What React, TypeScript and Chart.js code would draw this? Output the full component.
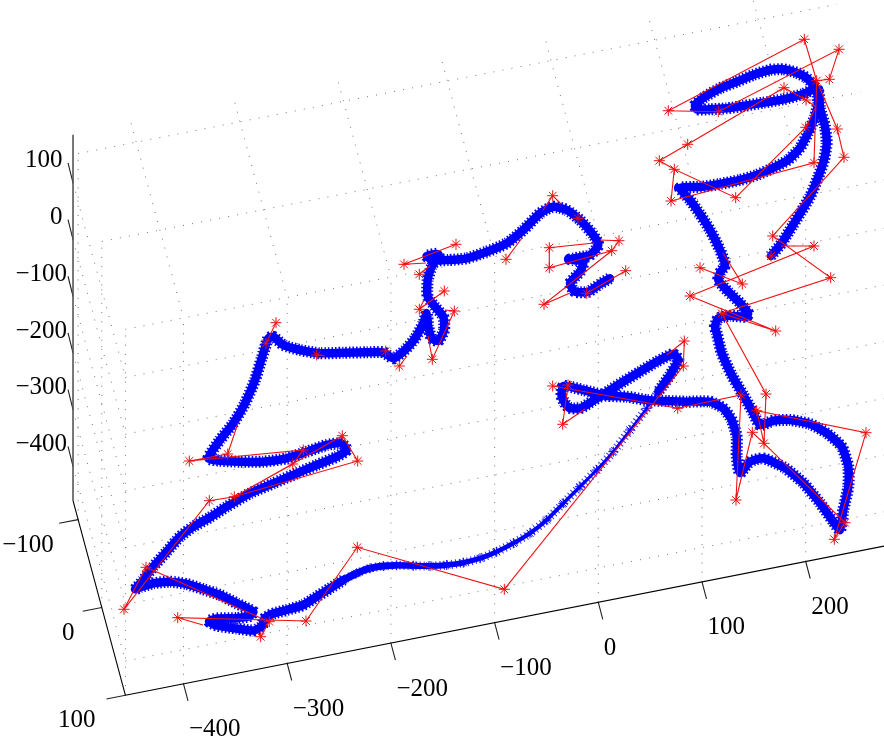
import React, { useEffect, useRef } from "react";
import { Chart, registerables } from "chart.js";

Chart.register(...registerables);

type P = [number, number] | null;

const xTicks = [-400, -300, -200, -100, 0, 100, 200];
const yTicks = [-100, 0, 100];
const zTicks = [-400, -300, -200, -100, 0, 100];
const xRange = [-456, 275.5];
const yRange = [-121.6, 100];
const zRange = [-460.5, 185];

// blue fitted curve (projected plot coordinates)
const blueDenseA: P[] = [
  [771, 256], [781.7, 243], [793, 225], [801, 212], [810, 196.7], [818.3, 176.7], [824, 160], [826.7, 143], [825, 126.7], [820, 108], [818.3, 91.7],
  [806.7, 78], [796.7, 72.7], [783.3, 69.3], [770, 70], [753, 75], [736.7, 81.7], [720, 88.3], [705, 96.7], [695, 105], [696.7, 109.3],
  [710, 109.3], [726.7, 108.3], [743, 106], [763, 102.7], [783.3, 99.3], [803.3, 94], [816.7, 88.3], [818, 103], [815, 116.7], [808, 133],
  [800, 148], [788, 160], [773, 168], [756.7, 175], [740, 180], [720, 184], [700, 187], [680, 188], [690, 200], [700, 214], [710, 230],
  [720, 250], [725, 265], [720, 273], [718.3, 280], [728.3, 291.7], [740, 303], [748, 313], [746.7, 316.7], [730, 315.7], [718.3, 318.3],
  [715, 326.7], [716.7, 333], [721.7, 353], [731.7, 375], [743.3, 395], [753.3, 413], [760, 425], [773.3, 420.7], [790, 420], [810, 424],
  [826.7, 433], [841.7, 446.7], [848.3, 466.7], [848.3, 486.7], [843.3, 510], [840, 530], [833.3, 521.7], [820, 503], [803.3, 483], [785, 468],
  [763.3, 458.3], [750, 461.7], [740, 473], [736.7, 456.7], [736.7, 436.7], [731.7, 420], [723.3, 408.3], [710, 401.7], [686.7, 401.7],
  [666.7, 401], [646.7, 400], [626.7, 396.7], [606.7, 395.7], [583.3, 390], [563.3, 386], [561.7, 396.7], [568.3, 407.3], [580, 408.3],
  [593.3, 400.7], [610, 390], [623.3, 381.7], [640, 371.7], [656.7, 361.7], [673.3, 354], [678.3, 360], [670, 375], [658.3, 391.7],
];
const blueThin: P[] = [
  [658.3, 391.7], [646.7, 408.3], [630, 430], [613.3, 451.7], [596.7, 470], [580, 486.7], [563.3, 503.3], [546.7, 520], [530, 533.3],
  [513.3, 543.3], [496.7, 551.7], [480, 558.3], [463.3, 562.7], [446.7, 565], [430, 566], [413.3, 565.7], [396.7, 565.3], [383.3, 566],
  [370, 568.3], [356.7, 573.3], [343.3, 580],
];
const blueDenseB: P[] = [
  [343.3, 580], [330, 588.3], [316.7, 596.7], [303.3, 605],
  [286.7, 610], [272, 614], [264, 619], [262, 626], [254, 630.5], [236.7, 628.5], [216.7, 625.5], [209, 621.5], [216.7, 618.5], [236.7, 618],
  [250, 616], [253.3, 611.7],
  [236.7, 603.3], [220, 595], [203.3, 589.3], [186.7, 584], [170, 581.7], [153.3, 583.3], [140, 587.3], [135, 589.3], [143.3, 580],
  [153.3, 566.7], [166.7, 551.7], [180, 536.7], [193.3, 526.7], [210, 517.3], [226.7, 506.7], [250, 493.3], [273.3, 483.3], [296.7, 473.3],
  [316.7, 465], [336.7, 456.7], [346.7, 450], [341.7, 443.3], [326.7, 445], [306.7, 451.7], [286.7, 458.3], [263.3, 461.7], [240, 461.7],
  [220, 460.7], [208.3, 458.3], [220, 440], [233.3, 423.3], [245, 403.3], [255, 380], [261.7, 358.3], [268.3, 338.3], [273.3, 336.7],
  [283.3, 345], [300, 350], [320, 353.3], [343.3, 352.7], [366.7, 352.3], [383.3, 352.3], [393.3, 358.3], [405, 350], [415, 338.3], [423.3, 323.3],
  [426.7, 313.3], [428.3, 326.7], [431.7, 338.3], [438.3, 341], [444, 330], [443.3, 316.7], [435, 306.7], [427.7, 296.7], [427.7, 280],
  [431.7, 266.7], [438.3, 254], [426.7, 256], [433.3, 260], [448.3, 260], [466.7, 258.3], [486.7, 251.7], [506.7, 243.3], [523.3, 230],
  [540, 213.3], [553.3, 206.7], [566.7, 210], [580, 220], [593.3, 235], [598.3, 245], [590, 255], [570, 259.3], [583.3, 261.7], [580, 271.7],
  [570, 283.3], [575, 291.7], [588.3, 291.7], [600, 284], [610, 278.3],
];

// red noisy polygon; null = the line is hidden behind the curve there
const redPath: P[] = [
  [781, 246], [814, 246], [690, 296], [775.7, 331], [721.7, 313.3], [830.7, 277.7], [772.7, 236], [844, 157.3], [837.3, 129], [816.7, 80.7],
  [804.3, 39.3], [668.3, 110.7], [718.3, 111.7], [839, 49.3], [829.3, 79.3], [816.7, 80.7], [814, 162.7], [671, 201], [674.3, 169.3], [735.7, 197.7],
  [805.7, 127.3], [816, 107], [806, 100], [784, 87.7], [687.7, 144.3], [659.3, 160.7], [674.3, 169.3], null,
  [723, 253], [742.3, 284], [700, 267.7], null,
  [721.7, 313.3], [766, 394], [764, 443.3], [756.7, 410.7], [866, 432.7], [834.3, 539.3], [845, 522.7], [764, 443.3], [752.3, 432.3], [736, 500],
  [741, 395], [677.7, 408.3], [552.7, 386], null,
  [568, 385], [562.7, 424.3], [585, 409], null,
  [667, 355], [684.3, 341], [683.3, 366], [504.3, 589.3], [357.3, 547.3], [306, 621], [177.7, 617.7], [203, 625], null,
  [260.7, 636.7], [269.3, 621.7], [146, 567.3], [124, 609.3], [209.3, 500.7], [234.3, 496.7], [357.7, 461], [342.3, 435.7], [234.3, 496.7],
  [292.7, 464], [303.3, 450], [189.3, 461], [227.7, 454], [238, 423], null,
  [266, 343.3], [276, 322.7], null,
  [316.7, 355], [325, 356], null,
  [399.3, 366], [407, 356], null,
  [428, 336], [432.3, 359.3], [454.3, 311], [445, 310], null,
  [419.3, 309.3], [444.3, 291], null,
  [419.3, 309.3], [424, 300], null,
  [419.3, 274.3], [430, 266], null,
  [456, 244.3], [404, 264.3], [426, 263], null,
  [506, 259.3], [522, 238], null,
  [543, 210], [552.7, 195.7], [561, 204], null,
  [600, 240], [619, 240.7], [611.7, 250.7], [549.3, 267.7], [549.3, 247.7], [594, 243], null,
  [611.7, 250.7], [544, 304.3], [570, 293], null,
  [586.7, 293.3], [625.7, 270.7],
];

const redStars: P[] = [
  [771, 256], [772.7, 236], [814, 246], [830.7, 277.7], [690, 296], [775.7, 331], [721.7, 313.3], [766, 394], [700, 267.7], [742.3, 284],
  [804.3, 39.3], [839, 49.3], [816.7, 80.7], [829.3, 79.3], [784, 87.7], [668.3, 110.7], [718.3, 111.7], [687.7, 144.3], [659.3, 160.7],
  [674.3, 169.3], [735.7, 197.7], [671, 201], [814, 162.7], [844, 157.3], [837.3, 129], [805.7, 127.3], [806, 100],
  [684.3, 341], [683.3, 366], [552.7, 386], [568, 385], [562.7, 424.3], [677.7, 408.3], [741, 395], [756.7, 410.7], [752.3, 432.3],
  [764, 443.3], [866, 432.7], [736, 500], [834.3, 539.3], [845, 522.7],
  [504.3, 589.3], [357.3, 547.3], [306, 621], [269.3, 621.7], [260.7, 636.7], [177.7, 617.7], [146, 567.3], [124, 609.3], [209.3, 500.7],
  [234.3, 496.7], [292.7, 464], [342.3, 435.7], [357.7, 461], [303.3, 450], [227.7, 454], [189.3, 461], [266, 343.3], [276, 322.7],
  [316.7, 355], [385.7, 351], [399.3, 366], [432.3, 359.3], [454.3, 311], [444.3, 291], [419.3, 309.3], [419.3, 274.3], [404, 264.3],
  [456, 244.3], [506, 259.3], [552.7, 195.7], [578, 218.3], [619, 240.7], [611.7, 250.7], [549.3, 247.7], [549.3, 267.7], [625.7, 270.7],
  [586.7, 293.3], [544, 304.3],
];

// projection of the 3-D box on to the page
const ORIGIN = [598.3, 602.3];
const EX = [1.037, -0.204];
const EY = [0.2365, 0.8785];
const EZ = [0, -0.567];
const project = (x: number, y: number, z: number) => {
  const dy = y - 100;
  const dz = z - zRange[0];
  return { x: ORIGIN[0] + x * EX[0] + dy * EY[0], y: ORIGIN[1] + x * EX[1] + dy * EY[1] + dz * EZ[1] };
};
const GAP = { x: NaN, y: NaN };
const toPts = (a: P[]) => a.map((p) => (p ? { x: p[0], y: p[1] } : GAP));

const gridPts = () => {
  const out: any[] = [];
  const seg = (a: any, b: any) => out.push(a, b, GAP);
  const [x0, x1] = xRange;
  const [y0, y1] = yRange;
  const [z0, z1] = zRange;
  xTicks.forEach((x) => {
    seg(project(x, 100, z0), project(x, 100, z1));
    seg(project(x, y0, z1), project(x, 100, z1));
  });
  zTicks.forEach((z) => {
    seg(project(x0, 100, z), project(x1, 100, z));
    seg(project(x0, y0, z), project(x0, 100, z));
  });
  yTicks.forEach((y) => {
    seg(project(x0, y, z0), project(x0, y, z1));
    seg(project(x0, y, z1), project(x1, y, z1));
  });
  return out;
};

const tickPts = () => {
  const out: any[] = [];
  const mark = (p: any, dx: number, dy: number) => out.push(p, { x: p.x + dx, y: p.y + dy }, GAP);
  xTicks.forEach((x) => mark(project(x, 100, zRange[0]), 4.5, 17));
  yTicks.forEach((y) => mark(project(xRange[0], y, zRange[0]), -19, 3.7));
  zTicks.forEach((z) => mark(project(xRange[0], yRange[0], z), -5, -20));
  return out;
};

const axisX = () => [project(xRange[0], 100, zRange[0]), project(xRange[1], 100, zRange[0]), GAP, project(xRange[0], 100, zRange[0]), project(xRange[0], yRange[0], zRange[0])];
const axisZ = () => [project(xRange[0], yRange[0], zRange[0]), project(xRange[0], yRange[0], zRange[1])];

const fmt = (v: number) => (v < 0 ? "\u2212" + Math.abs(v) : String(v));

const labelsPlugin = {
  id: "tickLabels",
  afterDraw(chart: any) {
    const { ctx, scales } = chart;
    const sx = (v: number) => scales.x.getPixelForValue(v);
    const sy = (v: number) => scales.y.getPixelForValue(v);
    ctx.save();
    ctx.fillStyle = "#000";
    ctx.font = '25px "Liberation Serif"';
    ctx.textBaseline = "middle";
    ctx.textAlign = "left";
    xTicks.forEach((t) => {
      const p = project(t, 100, zRange[0]);
      ctx.fillText(fmt(t), sx(p.x + 5.5), sy(p.y + 46));
    });
    ctx.textAlign = "right";
    yTicks.forEach((t) => {
      const p = project(xRange[0], t, zRange[0]);
      ctx.fillText(fmt(t), sx(p.x - 24.4 - (t + 100) * 0.028), sy(p.y + 25.5));
    });
    zTicks.forEach((t) => {
      const p = project(xRange[0], yRange[0], t);
      ctx.fillText(fmt(t), sx(t < 0 ? 67 : 62.5), sy(p.y - 22));
    });
    ctx.restore();
  },
};

const line = (data: any[], extra: any) => ({
  data,
  showLine: true,
  pointRadius: 0,
  spanGaps: false,
  fill: false,
  ...extra,
});

export default function App() {
  const ref = useRef<HTMLCanvasElement>(null);
  useEffect(() => {
    const blue = "#0000ff";
    const red = "#ee1111";
    const chart = new Chart(ref.current as HTMLCanvasElement, {
      type: "scatter",
      data: {
        datasets: [
          line(gridPts(), { borderColor: "#666", borderWidth: 0.9, borderDash: [1, 8.2], order: 20 }),
          line(axisX(), { borderColor: "#000", borderWidth: 1.1, order: 19 }),
          line(axisZ(), { borderColor: "#555", borderWidth: 1.6, order: 19 }),
          line(tickPts(), { borderColor: "#222", borderWidth: 1.1, order: 19 }),
          line(toPts(blueDenseA), { borderColor: blue, borderWidth: 12, borderDash: [1.5, 2], tension: 0.2, order: 9 }),
          line(toPts(blueDenseB), { borderColor: blue, borderWidth: 12, borderDash: [1.5, 2], tension: 0.2, order: 9 }),
          line(toPts(blueThin), { borderColor: "rgba(0,0,255,0.8)", borderWidth: 9, borderDash: [1, 3], tension: 0.2, order: 9 }),
          line(toPts(blueDenseA), { borderColor: blue, borderWidth: 8.5, tension: 0.2, borderJoinStyle: "round", borderCapStyle: "round", order: 8 }),
          line(toPts(blueDenseB), { borderColor: blue, borderWidth: 8.5, tension: 0.2, borderJoinStyle: "round", borderCapStyle: "round", order: 8 }),
          line(toPts(blueThin), {
            borderColor: blue, borderWidth: 3, tension: 0.2, order: 8,
            segment: { borderWidth: (c: any) => 2 + c.p0DataIndex * 0.3 },
            pointStyle: "star", pointRadius: 5, pointBorderColor: blue, pointBorderWidth: 1,
          }),
          line(toPts(redPath), { borderColor: red, borderWidth: 1.1, order: 2 }),
          {
            data: toPts(redStars), showLine: false, pointStyle: "star", pointRadius: 5.5,
            pointBorderColor: red, pointBorderWidth: 1, order: 1,
          },
        ],
      },
      options: {
        animation: false,
        responsive: false,
        clip: false,
        layout: { padding: 0, autoPadding: false },
        plugins: { legend: { display: false }, tooltip: { enabled: false } },
        events: [],
        scales: {
          x: { type: "linear", display: false, min: 0, max: 884 },
          y: { type: "linear", display: false, min: 0, max: 741, reverse: true },
        },
      } as any,
      plugins: [labelsPlugin],
    } as any);
    return () => chart.destroy();
  }, []);
  return (
    <canvas
      ref={ref}
      width={884}
      height={741}
      style={{ position: "absolute", left: 0, top: 0, width: 884, height: 741, display: "block", background: "#fff" }}
    />
  );
}
